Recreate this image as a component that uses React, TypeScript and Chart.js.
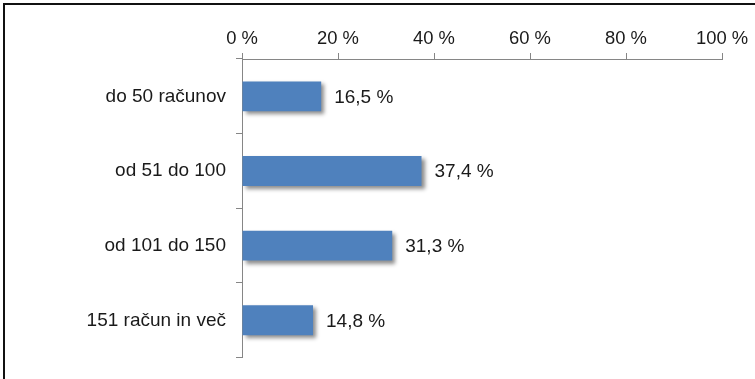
import React, { useEffect, useRef } from "react";
import { Chart, registerables } from "chart.js";

Chart.register(...registerables);

const categories = ["do 50 računov", "od 51 do 100", "od 101 do 150", "151 račun in več"];
const values = [16.5, 37.4, 31.3, 14.8];
const valueLabels = ["16,5 %", "37,4 %", "31,3 %", "14,8 %"];
const xTickValues = [0, 20, 40, 60, 80, 100];

const FONT = "'Liberation Sans', Arial, sans-serif";
const X_FONT_SIZE = 18.4;
const FONT_SIZE = 19;
const TEXT = "#1a1a1a";
const AXIS = "#868686";

const shadowPlugin = {
  id: "barShadow",
  beforeDatasetsDraw(chart: any) {
    const ctx = chart.ctx;
    ctx.save();
    ctx.shadowColor = "rgba(0,0,0,0.45)";
    ctx.shadowBlur = 4;
    ctx.shadowOffsetX = 3;
    ctx.shadowOffsetY = 3;
  },
  afterDatasetsDraw(chart: any) {
    chart.ctx.restore();
  },
};

const labelPlugin = {
  id: "valueLabels",
  afterDatasetsDraw(chart: any) {
    const ctx = chart.ctx;
    const meta = chart.getDatasetMeta(0);
    ctx.save();
    ctx.font = `${FONT_SIZE}px ${FONT}`;
    ctx.fillStyle = TEXT;
    ctx.textAlign = "left";
    ctx.textBaseline = "middle";
    meta.data.forEach((bar: any, i: number) => {
      ctx.fillText(valueLabels[i], bar.x + 13, bar.y + 1);
    });
    ctx.restore();
  },
};

export default function App() {
  const ref = useRef<HTMLCanvasElement>(null);
  useEffect(() => {
    if (!ref.current) return;
    const chart = new Chart(ref.current, {
      type: "bar",
      data: {
        labels: categories,
        datasets: [
          {
            data: values,
            backgroundColor: "#4f81bd",
            borderWidth: 0,
            barPercentage: 0.4,
            categoryPercentage: 1,
          },
        ],
      },
      options: {
        indexAxis: "y",
        animation: false,
        responsive: false,
        maintainAspectRatio: false,
        layout: { padding: { left: 0, top: 0, right: 33, bottom: 20 } },
        plugins: { legend: { display: false }, tooltip: { enabled: false } },
        scales: {
          x: {
            position: "top",
            min: 0,
            max: 100,
            afterFit: (s: any) => {
              s.height = 59;
            },
            afterBuildTicks: (s: any) => {
              s.ticks = xTickValues.map((v) => ({ value: v }));
            },
            ticks: {
              callback: (v: any) => `${v} %`,
              font: { family: FONT, size: X_FONT_SIZE },
              color: TEXT,
              padding: 3,
              maxRotation: 0,
            },
            grid: {
              drawOnChartArea: false,
              drawTicks: true,
              tickLength: 6,
              color: AXIS,
              lineWidth: 1,
            },
            border: { color: AXIS, width: 1 },
          },
          y: {
            afterFit: (s: any) => {
              s.width = 242;
            },
            ticks: {
              font: { family: FONT, size: FONT_SIZE },
              color: TEXT,
              padding: 10,
            },
            grid: {
              drawOnChartArea: false,
              drawTicks: true,
              tickLength: 6,
              color: AXIS,
              lineWidth: 1,
              offset: true,
            },
            border: { color: AXIS, width: 1 },
          },
        },
      },
      plugins: [shadowPlugin, labelPlugin],
    });
    return () => chart.destroy();
  }, []);

  return (
    <div style={{ position: "fixed", left: 0, top: 0, width: 755, height: 379, background: "#fff", overflow: "hidden" }}>
      <canvas ref={ref} width={755} height={379} style={{ position: "absolute", left: 0, top: 0 }} />
      <div
        style={{
          position: "absolute",
          left: 3,
          top: 3,
          width: 800,
          height: 420,
          border: "2px solid #111",
          pointerEvents: "none",
        }}
      />
    </div>
  );
}
